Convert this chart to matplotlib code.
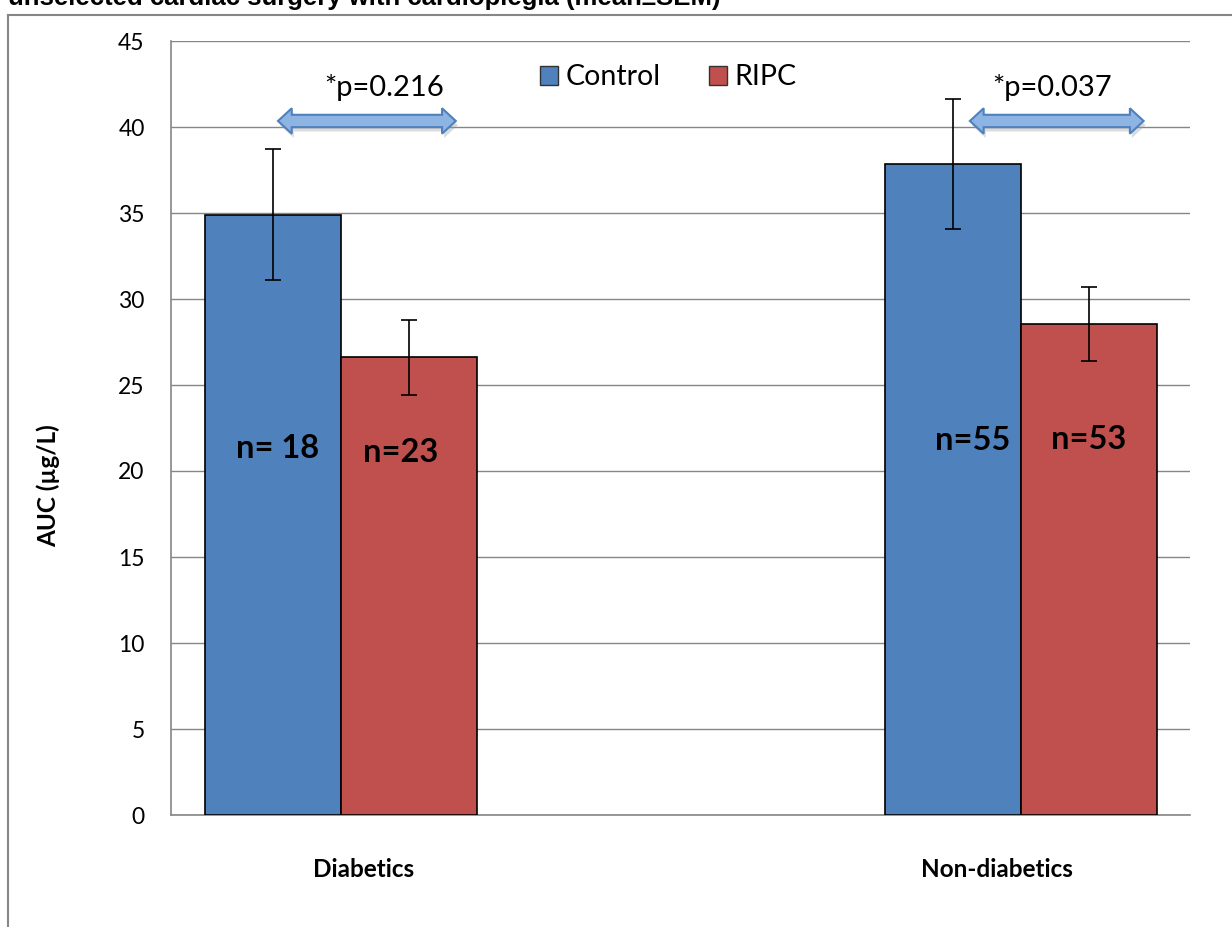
import matplotlib
matplotlib.use("Agg")
import matplotlib.pyplot as plt
from matplotlib.patches import Polygon, Patch
from matplotlib.lines import Line2D
import numpy as np

# Data
groups = ["Diabetics", "Non-diabetics"]
control_mean = [34.9, 37.85]
control_sem = [3.8, 3.8]
ripc_mean = [26.6, 28.55]
ripc_sem = [2.2, 2.15]
control_n = ["n= 18", "n=55"]
ripc_n = ["n=23", "n=53"]
p_labels = ["*p=0.216", "*p=0.037"]

blue = "#4F81BD"
red = "#C0504D"
grid_gray = "#868686"
plt.rcParams["font.family"] = ["Lato", "DejaVu Sans"]

fig = plt.figure(figsize=(12.32, 9.27), dpi=100)
ax = fig.add_axes([171 / 1232, 1 - 815 / 927, 1019 / 1232, 774 / 927])

# bar layout (x axis runs 0..2 across the plot area)
centers = np.array([0.334, 1.668])
width = 0.267
xc = centers - width / 2
xr = centers + width / 2

ax.bar(xc, control_mean, width, color=blue, edgecolor="black", linewidth=1.2, zorder=3)
ax.bar(xr, ripc_mean, width, color=red, edgecolor="black", linewidth=1.2, zorder=3)
ax.errorbar(xc, control_mean, yerr=control_sem, fmt="none", ecolor="black",
            elinewidth=1.2, capsize=6, capthick=1.2, zorder=4)
ax.errorbar(xr, ripc_mean, yerr=ripc_sem, fmt="none", ecolor="black",
            elinewidth=1.2, capsize=6, capthick=1.2, zorder=4)

# n labels inside bars
n_off_c = [0.008, 0.038]
n_off_r = [-0.017, 0.0]
n_y_c = [21.3, 21.8]
n_y_r = [21.1, 21.85]
for i in range(len(groups)):
    ax.text(xc[i] + n_off_c[i], n_y_c[i], control_n[i], ha="center", va="center",
            fontsize=23.5, fontweight="bold", zorder=5)
    ax.text(xr[i] + n_off_r[i], n_y_r[i], ripc_n[i], ha="center", va="center",
            fontsize=23.5, fontweight="bold", zorder=5)

# double-headed arrows with p values
arrow_x = [(0.21, 0.559), (1.568, 1.909)]
p_x = [0.418, 1.729]
arrow_y = 40.35
head_len, head_h, shaft_h = 0.027, 0.74, 0.36
for (x0, x1), px_, lab in zip(arrow_x, p_x, p_labels):
    pts = [(x0, arrow_y), (x0 + head_len, arrow_y + head_h),
           (x0 + head_len, arrow_y + shaft_h), (x1 - head_len, arrow_y + shaft_h),
           (x1 - head_len, arrow_y + head_h), (x1, arrow_y),
           (x1 - head_len, arrow_y - head_h), (x1 - head_len, arrow_y - shaft_h),
           (x0 + head_len, arrow_y - shaft_h), (x0 + head_len, arrow_y - head_h)]
    shadow = [(px + 0.004, py - 0.25) for px, py in pts]
    ax.add_patch(Polygon(shadow, closed=True, facecolor="#999999", edgecolor="none",
                         alpha=0.35, zorder=5))
    ax.add_patch(Polygon(pts, closed=True, facecolor="#8EB4E3", edgecolor=blue,
                         linewidth=1.5, zorder=6))
    ax.text(px_, arrow_y + 1.95, lab, ha="center", va="center", fontsize=21, zorder=6)

# axes styling
ax.set_xlim(0, 2)
ax.set_ylim(0, 45)
ax.set_yticks(np.arange(0, 46, 5))
ax.yaxis.grid(True, color=grid_gray, linewidth=1)
ax.set_axisbelow(True)
for s in ["top", "right"]:
    ax.spines[s].set_visible(False)
for s in ["left", "bottom"]:
    ax.spines[s].set_color(grid_gray)
    ax.spines[s].set_linewidth(1.2)
ax.tick_params(axis="y", length=0, pad=19, labelsize=16.5)
ax.set_xticks([0.377, 1.621])
ax.set_xticklabels(groups, fontsize=17.5, fontweight="bold")
ax.tick_params(axis="x", length=0, pad=31)
ax.set_ylabel("AUC (µg/L)", fontsize=17.5, fontweight="bold")
ax.yaxis.set_label_coords(-0.109, 0.426)

handles = [Patch(facecolor=blue, edgecolor="#333333", label="Control"),
           Patch(facecolor=red, edgecolor="#333333", label="RIPC")]
ax.legend(handles=handles, loc="center", bbox_to_anchor=(0.488, 0.953), ncol=2,
          frameon=False, fontsize=20.5, handlelength=0.65, handleheight=0.65,
          handletextpad=0.25, columnspacing=1.7, borderaxespad=0)

# outer chart frame and clipped title
fig.add_artist(Line2D([8 / 1232, 8 / 1232], [0, 1 - 15 / 927], color=grid_gray, lw=1.5))
fig.add_artist(Line2D([8 / 1232, 1], [1 - 15 / 927, 1 - 15 / 927], color=grid_gray, lw=1.5))
fig.text(8 / 1232, 1 - 5 / 927, "unselected cardiac surgery with cardioplegia (mean±SEM)",
         ha="left", va="baseline", fontsize=18.5, fontweight="bold",
         family=["Liberation Sans", "DejaVu Sans"])

fig.savefig("out.png", dpi=100)
